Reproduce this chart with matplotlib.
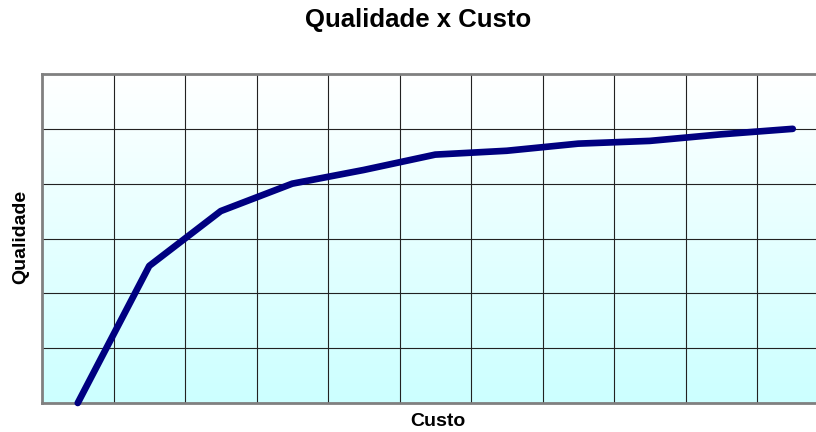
import matplotlib
matplotlib.use("Agg")
import matplotlib.pyplot as plt
import numpy as np

# custo (categorias) x qualidade
custo = list(range(11))
qualidade = [0, 2.5, 3.5, 4.0, 4.25, 4.53, 4.6, 4.73, 4.78, 4.9, 5.0]

plt.rcParams["font.family"] = ["Liberation Sans", "DejaVu Sans"]

W, H = 816, 432
fig = plt.figure(figsize=(W / 100, H / 100), dpi=100)
ax = fig.add_axes([42 / W, 29 / H, 1 - 42 / W, (403 - 74) / H])

x_right = -0.5 + (W - 42) / 71.5

# fundo em degradê: branco no topo, ciano claro embaixo
t = np.linspace(0, 1, 256)[:, None, None]
top = np.array([1.0, 1.0, 1.0])[None, None, :]
bottom = np.array([0.8, 1.0, 1.0])[None, None, :]
img = top + (bottom - top) * t
ax.imshow(img, extent=(-0.5, x_right, 0, 6), aspect="auto", origin="upper", zorder=0)

ax.set_xticks(np.arange(0.5, 11, 1))
ax.set_yticks(np.arange(0, 7, 1))
ax.tick_params(length=0, labelbottom=False, labelleft=False)
ax.grid(True, color="#222222", linewidth=0.8)
ax.set_axisbelow(False)

for side in ("top", "left", "bottom"):
    ax.spines[side].set_color("#808080")
    ax.spines[side].set_linewidth(2)
    ax.spines[side].set_zorder(2.6)
ax.spines["right"].set_visible(False)

ax.plot(custo, qualidade, color="#000080", linewidth=4.8,
        solid_capstyle="round", solid_joinstyle="round", zorder=3, clip_on=False)

ax.set_xlim(-0.5, x_right)
ax.set_ylim(0, 6)

fig.text(418 / W, 1 - 20 / H, "Qualidade x Custo", ha="center", va="center",
         fontsize=18.5, fontweight="bold")
fig.text(438 / W, 1 - 421 / H, "Custo", ha="center", va="center",
         fontsize=14, fontweight="bold")
fig.text(21 / W, 1 - 237 / H, "Qualidade", ha="center", va="center",
         rotation=90, fontsize=14, fontweight="bold")

fig.savefig("out.png", dpi=100)
